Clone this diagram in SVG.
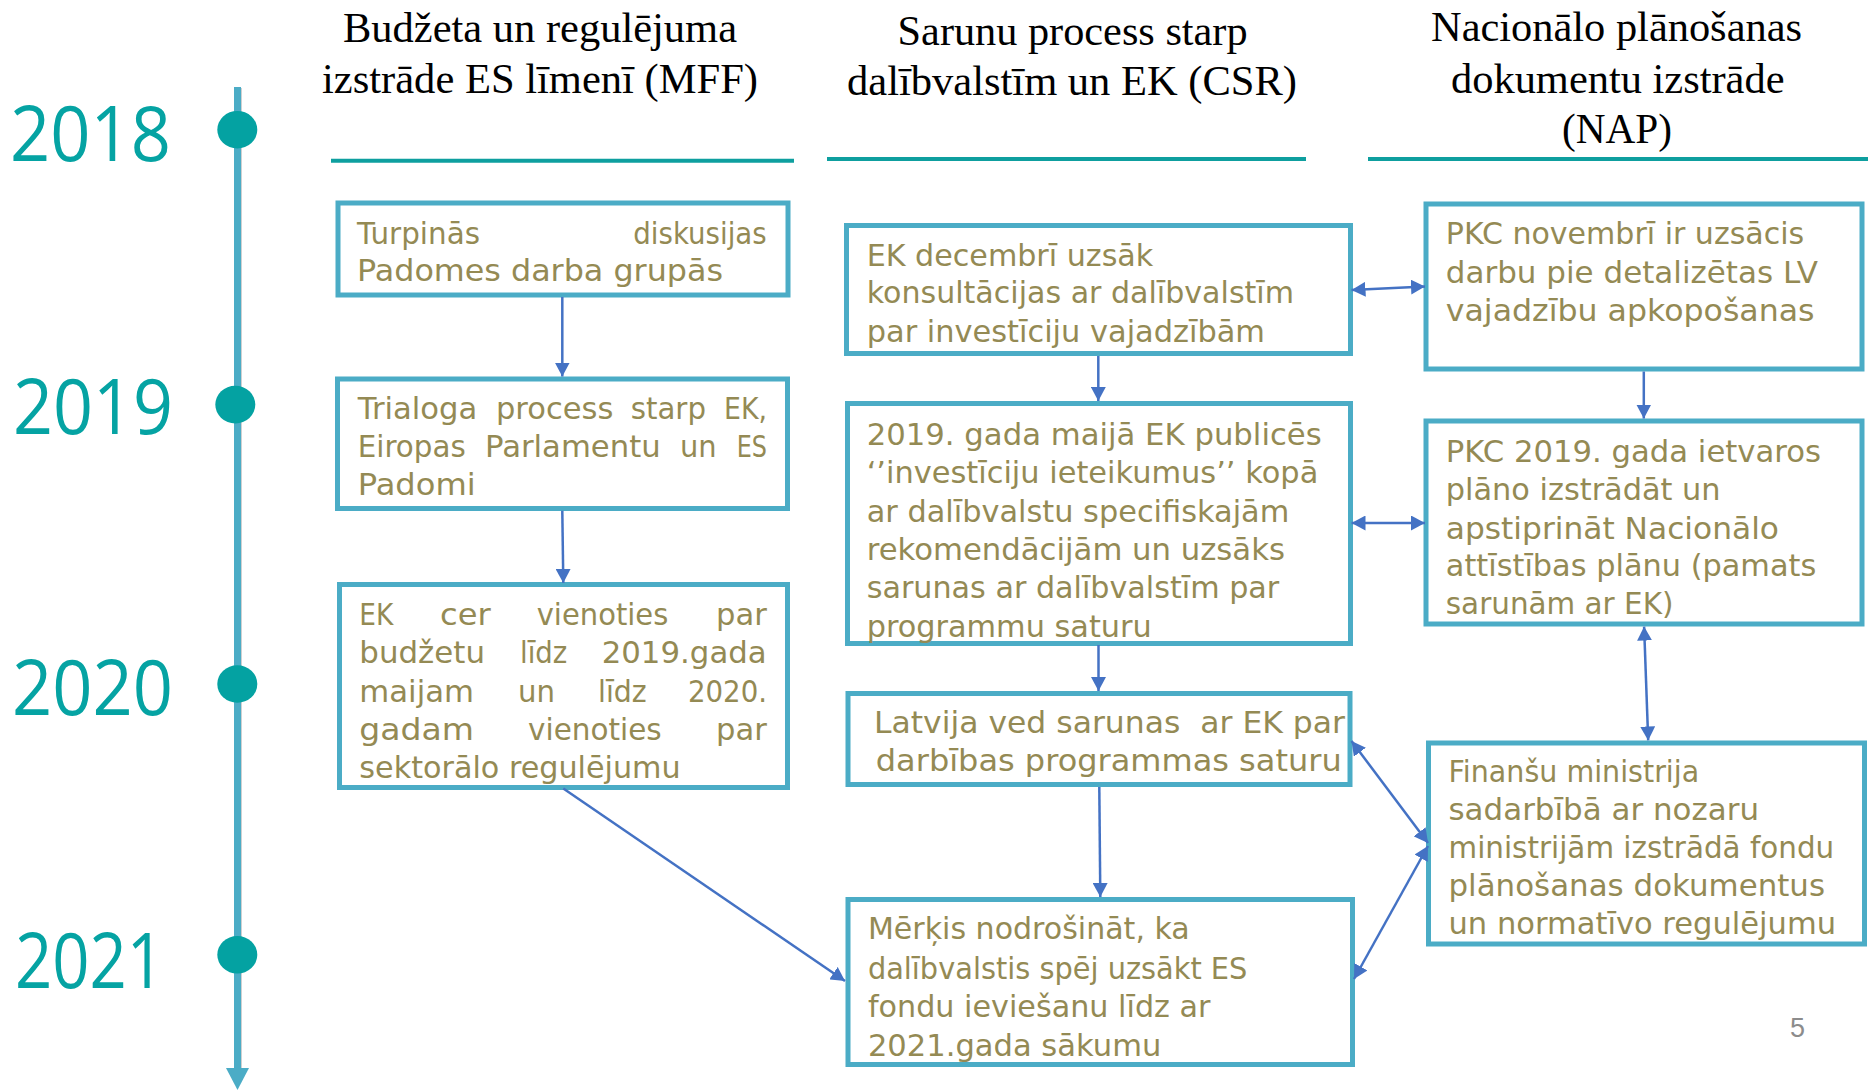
<svg xmlns="http://www.w3.org/2000/svg" width="1868" height="1090" viewBox="0 0 1868 1090">
<style>
.box{fill:#fff;stroke:#4BACC6;stroke-width:5}
.t{font-family:"DejaVu Sans","Open Sans",sans-serif;font-size:31px;fill:#948A54}
.yr{font-family:"Open Sans","DejaVu Sans",sans-serif;font-size:76px;fill:#05A3A3}
.hd{font-family:"Liberation Serif","Times New Roman",serif;font-size:42px;fill:#000}
.conn line{stroke:#4472C4;stroke-width:2.5;fill:none}
.hl{stroke:#0E9F9F;stroke-width:4}
.dot{fill:#04A2A2}
</style>
<defs>
<marker id="ah" viewBox="0 0 14 15" refX="14" refY="7.5" markerWidth="14" markerHeight="15" markerUnits="userSpaceOnUse" orient="auto-start-reverse"><path d="M0,0 L14,7.5 L0,15 z" fill="#4472C4"/></marker>
</defs>
<rect width="1868" height="1090" fill="#fff"/>

<g id="timeline">
<line x1="240.5" y1="88" x2="240.5" y2="1070" stroke="#d0d0d0" stroke-width="3"/>
<line x1="237.5" y1="87" x2="237.5" y2="1070" stroke="#4BACC6" stroke-width="7"/>
<polygon points="226,1068 249,1068 237.5,1090" fill="#4BACC6"/>
<ellipse class="dot" cx="237.3" cy="129.7" rx="20" ry="18.8"/>
<ellipse class="dot" cx="235.3" cy="404.6" rx="20" ry="18.8"/>
<ellipse class="dot" cx="237.3" cy="684" rx="20" ry="18.8"/>
<ellipse class="dot" cx="237.3" cy="954.8" rx="20" ry="18.8"/>
<text class="yr" x="10" y="161" textLength="161" lengthAdjust="spacingAndGlyphs">2018</text>
<text class="yr" x="13" y="434" textLength="160" lengthAdjust="spacingAndGlyphs">2019</text>
<text class="yr" x="12" y="715" textLength="161" lengthAdjust="spacingAndGlyphs">2020</text>
<text class="yr" x="15" y="988" textLength="149" lengthAdjust="spacingAndGlyphs">2021</text>
</g>

<g id="headers">
<text class="hd" x="343" y="42" textLength="394" lengthAdjust="spacingAndGlyphs">Budžeta un regulējuma</text>
<text class="hd" x="322" y="93" textLength="436" lengthAdjust="spacingAndGlyphs">izstrāde ES līmenī (MFF)</text>
<line class="hl" x1="331" y1="160.7" x2="794" y2="160.7"/>
<text class="hd" x="897.6" y="44.5" textLength="350" lengthAdjust="spacingAndGlyphs">Sarunu process starp</text>
<text class="hd" x="847" y="94.5" textLength="450" lengthAdjust="spacingAndGlyphs">dalībvalstīm un EK (CSR)</text>
<line class="hl" x1="827" y1="159" x2="1306" y2="159"/>
<text class="hd" x="1431" y="41" textLength="371" lengthAdjust="spacingAndGlyphs">Nacionālo plānošanas</text>
<text class="hd" x="1451" y="93" textLength="333.5" lengthAdjust="spacingAndGlyphs">dokumentu izstrāde</text>
<text class="hd" x="1562" y="142.5" textLength="110" lengthAdjust="spacingAndGlyphs">(NAP)</text>
<line class="hl" x1="1368" y1="159" x2="1868" y2="159"/>
</g>

<g id="B1">
<rect class="box" x="338" y="203" width="450" height="92"/>
<text class="t" x="357" y="244" textLength="123" lengthAdjust="spacingAndGlyphs">Turpinās</text>
<text class="t" x="633.3" y="244" textLength="133.4" lengthAdjust="spacingAndGlyphs">diskusijas</text>
<text class="t" x="357" y="281" textLength="366" lengthAdjust="spacingAndGlyphs">Padomes darba grupās</text>
</g>

<g id="B2">
<rect class="box" x="337.5" y="379" width="450" height="129.5"/>
<text class="t" x="357.7" y="419.3" textLength="119.6" lengthAdjust="spacingAndGlyphs">Trialoga</text>
<text class="t" x="496" y="419.3" textLength="117.3" lengthAdjust="spacingAndGlyphs">process</text>
<text class="t" x="630.7" y="419.3" textLength="75.3" lengthAdjust="spacingAndGlyphs">starp</text>
<text class="t" x="724" y="419.3" textLength="43" lengthAdjust="spacingAndGlyphs">EK,</text>
<text class="t" x="357.7" y="457.3" textLength="108" lengthAdjust="spacingAndGlyphs">Eiropas</text>
<text class="t" x="485" y="457.3" textLength="175.7" lengthAdjust="spacingAndGlyphs">Parlamentu</text>
<text class="t" x="680" y="457.3" textLength="36.7" lengthAdjust="spacingAndGlyphs">un</text>
<text class="t" x="736.7" y="457.3" textLength="30.3" lengthAdjust="spacingAndGlyphs">ES</text>
<text class="t" x="357.7" y="495" textLength="118" lengthAdjust="spacingAndGlyphs">Padomi</text>
</g>

<g id="B3">
<rect class="box" x="339.5" y="584.5" width="448" height="203"/>
<text class="t" x="359.3" y="625" textLength="34" lengthAdjust="spacingAndGlyphs">EK</text>
<text class="t" x="440" y="625" textLength="50.7" lengthAdjust="spacingAndGlyphs">cer</text>
<text class="t" x="536.7" y="625" textLength="131.6" lengthAdjust="spacingAndGlyphs">vienoties</text>
<text class="t" x="716" y="625" textLength="50.7" lengthAdjust="spacingAndGlyphs">par</text>
<text class="t" x="359.3" y="663.3" textLength="125.7" lengthAdjust="spacingAndGlyphs">budžetu</text>
<text class="t" x="520" y="663.3" textLength="47.3" lengthAdjust="spacingAndGlyphs">līdz</text>
<text class="t" x="601.7" y="663.3" textLength="165" lengthAdjust="spacingAndGlyphs">2019.gada</text>
<text class="t" x="359.3" y="701.7" textLength="114.7" lengthAdjust="spacingAndGlyphs">maijam</text>
<text class="t" x="518" y="701.7" textLength="37" lengthAdjust="spacingAndGlyphs">un</text>
<text class="t" x="598" y="701.7" textLength="48.7" lengthAdjust="spacingAndGlyphs">līdz</text>
<text class="t" x="688" y="701.7" textLength="79" lengthAdjust="spacingAndGlyphs">2020.</text>
<text class="t" x="359.3" y="740" textLength="114.7" lengthAdjust="spacingAndGlyphs">gadam</text>
<text class="t" x="528" y="740" textLength="133.7" lengthAdjust="spacingAndGlyphs">vienoties</text>
<text class="t" x="716" y="740" textLength="50.7" lengthAdjust="spacingAndGlyphs">par</text>
<text class="t" x="359.3" y="778.3" textLength="321.4" lengthAdjust="spacingAndGlyphs">sektorālo regulējumu</text>
</g>

<g id="C1">
<rect class="box" x="846.5" y="225.5" width="504" height="128"/>
<text class="t" x="866.7" y="265.7" textLength="286.6" lengthAdjust="spacingAndGlyphs">EK decembrī uzsāk</text>
<text class="t" x="866.7" y="303.3" textLength="427.3" lengthAdjust="spacingAndGlyphs">konsultācijas ar dalībvalstīm</text>
<text class="t" x="866.7" y="341.7" textLength="398.3" lengthAdjust="spacingAndGlyphs">par investīciju vajadzībām</text>
</g>

<g id="C2">
<rect class="box" x="847.5" y="403.5" width="503" height="240"/>
<text class="t" x="866.7" y="445" textLength="455" lengthAdjust="spacingAndGlyphs">2019. gada maijā EK publicēs</text>
<text class="t" x="866.7" y="483.3" textLength="451.6" lengthAdjust="spacingAndGlyphs">‘’investīciju ieteikumus’’ kopā</text>
<text class="t" x="866.7" y="521.7" textLength="422.6" lengthAdjust="spacingAndGlyphs">ar dalībvalstu specifiskajām</text>
<text class="t" x="866.7" y="560" textLength="418.3" lengthAdjust="spacingAndGlyphs">rekomendācijām un uzsāks</text>
<text class="t" x="866.7" y="598.3" textLength="412.6" lengthAdjust="spacingAndGlyphs">sarunas ar dalībvalstīm par</text>
<text class="t" x="866.7" y="636.7" textLength="285" lengthAdjust="spacingAndGlyphs">programmu saturu</text>
</g>

<g id="C3">
<rect class="box" x="848" y="693.5" width="502" height="91"/>
<text class="t" x="874" y="732.5" textLength="471" lengthAdjust="spacingAndGlyphs" xml:space="preserve">Latvija ved sarunas  ar EK par</text>
<text class="t" x="875.8" y="771.4" textLength="465.9" lengthAdjust="spacingAndGlyphs">darbības programmas saturu</text>
</g>

<g id="C4">
<rect class="box" x="848" y="899.5" width="504.5" height="165"/>
<text class="t" x="867.9" y="939" textLength="321.9" lengthAdjust="spacingAndGlyphs">Mērķis nodrošināt, ka</text>
<text class="t" x="867.9" y="978.7" textLength="379.5" lengthAdjust="spacingAndGlyphs">dalībvalstis spēj uzsākt ES</text>
<text class="t" x="867.9" y="1016.6" textLength="342.6" lengthAdjust="spacingAndGlyphs">fondu ieviešanu līdz ar</text>
<text class="t" x="867.9" y="1055.5" textLength="293.4" lengthAdjust="spacingAndGlyphs">2021.gada sākumu</text>
</g>

<g id="N1">
<rect class="box" x="1426" y="204" width="436" height="165"/>
<text class="t" x="1445.8" y="244.4" textLength="358.4" lengthAdjust="spacingAndGlyphs">PKC novembrī ir uzsācis</text>
<text class="t" x="1445.8" y="283" textLength="372.2" lengthAdjust="spacingAndGlyphs">darbu pie detalizētas LV</text>
<text class="t" x="1445.8" y="320.9" textLength="368.8" lengthAdjust="spacingAndGlyphs">vajadzību apkopošanas</text>
</g>

<g id="N2">
<rect class="box" x="1426" y="421" width="436" height="203"/>
<text class="t" x="1445.8" y="462" textLength="375.2" lengthAdjust="spacingAndGlyphs">PKC 2019. gada ietvaros</text>
<text class="t" x="1445.8" y="499.9" textLength="274.8" lengthAdjust="spacingAndGlyphs">plāno izstrādāt un</text>
<text class="t" x="1445.8" y="538.5" textLength="333.2" lengthAdjust="spacingAndGlyphs">apstiprināt Nacionālo</text>
<text class="t" x="1445.8" y="576.4" textLength="370.5" lengthAdjust="spacingAndGlyphs">attīstības plānu (pamats</text>
<text class="t" x="1445.8" y="614.2" textLength="227.6" lengthAdjust="spacingAndGlyphs">sarunām ar EK)</text>
</g>

<g id="N3">
<rect class="box" x="1428.5" y="743" width="436" height="201"/>
<text class="t" x="1448.5" y="782.4" textLength="250.7" lengthAdjust="spacingAndGlyphs">Finanšu ministrija</text>
<text class="t" x="1448.5" y="820.3" textLength="310.5" lengthAdjust="spacingAndGlyphs">sadarbībā ar nozaru</text>
<text class="t" x="1448.5" y="858.2" textLength="385.7" lengthAdjust="spacingAndGlyphs">ministrijām izstrādā fondu</text>
<text class="t" x="1448.5" y="896" textLength="376.5" lengthAdjust="spacingAndGlyphs">plānošanas dokumentus</text>
<text class="t" x="1448.5" y="934" textLength="387.5" lengthAdjust="spacingAndGlyphs">un normatīvo regulējumu</text>
</g>

<g id="connectors" class="conn">
<line x1="562.3" y1="297" x2="562.3" y2="376.5" marker-end="url(#ah)"/>
<line x1="562.3" y1="510.7" x2="563.3" y2="583" marker-end="url(#ah)"/>
<line x1="563.3" y1="788.5" x2="845" y2="981" marker-end="url(#ah)"/>
<line x1="1098.3" y1="356" x2="1098.3" y2="401" marker-end="url(#ah)"/>
<line x1="1098.5" y1="645" x2="1098.5" y2="691" marker-end="url(#ah)"/>
<line x1="1099.3" y1="787" x2="1100.3" y2="897" marker-end="url(#ah)"/>
<line x1="1351.5" y1="290" x2="1425" y2="286.4" marker-start="url(#ah)" marker-end="url(#ah)"/>
<line x1="1351.5" y1="523" x2="1425" y2="523" marker-start="url(#ah)" marker-end="url(#ah)"/>
<line x1="1643.8" y1="371.5" x2="1643.8" y2="418.5" marker-end="url(#ah)"/>
<line x1="1644.1" y1="626.6" x2="1648.2" y2="740.4" marker-start="url(#ah)" marker-end="url(#ah)"/>
<line x1="1351.5" y1="741" x2="1428" y2="843" marker-start="url(#ah)" marker-end="url(#ah)"/>
<line x1="1428" y1="846" x2="1354" y2="979" marker-start="url(#ah)" marker-end="url(#ah)"/>
</g>

<text id="page" x="1790" y="1037" font-family="Liberation Sans, Arial, sans-serif" font-size="27" fill="#8C8C8C">5</text>
</svg>
